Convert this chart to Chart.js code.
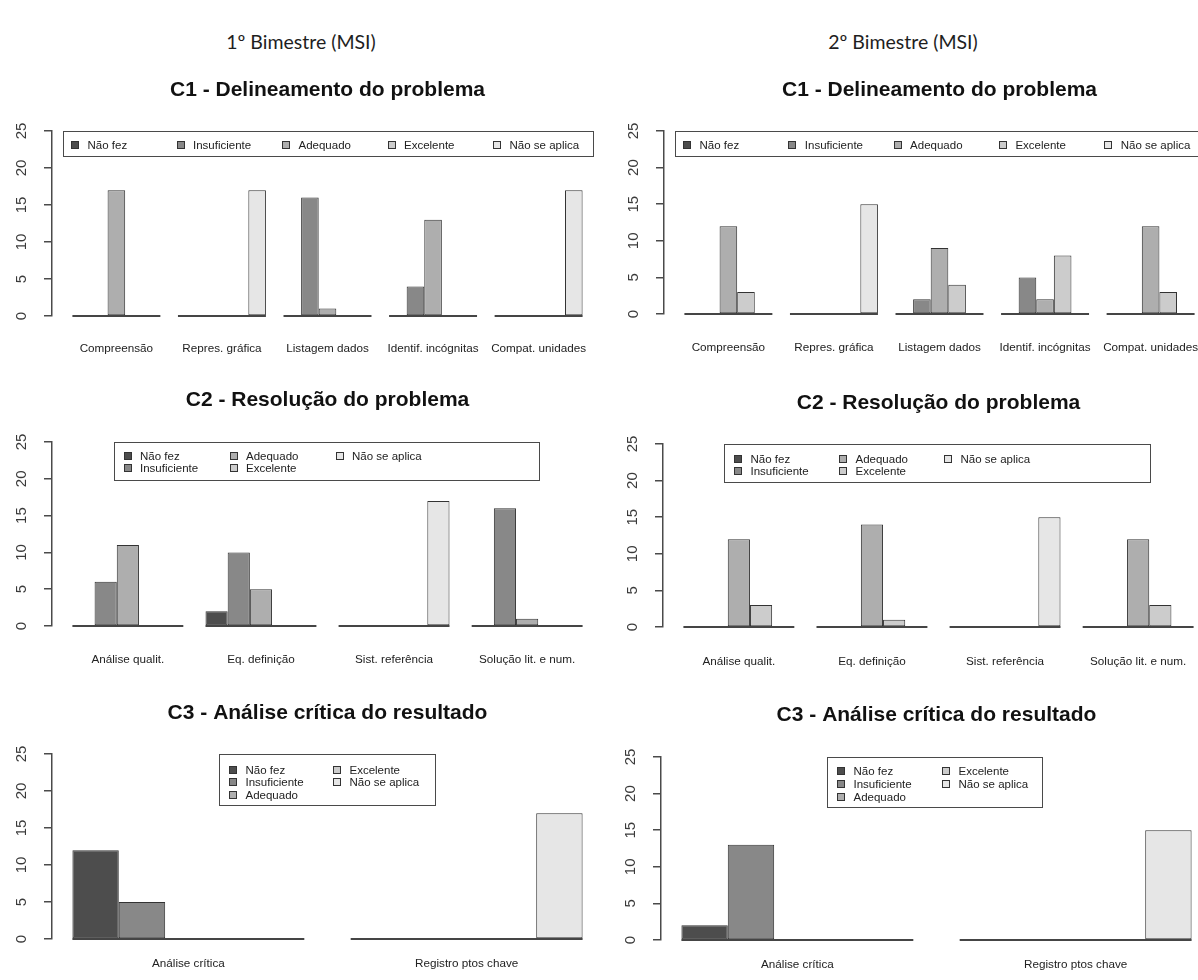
<!DOCTYPE html>
<html lang="pt">
<head>
<meta charset="utf-8">
<title>MSI - 1º e 2º Bimestre</title>
<script src="https://cdn.jsdelivr.net/npm/chart.js@4.4.1/dist/chart.umd.min.js"></script>
<style>
    html, body { margin: 0; padding: 0; background: #fff; }
    #pagina { position: relative; width: 1198px; height: 980px; overflow: hidden; background: #fff; }
    #pagina canvas { position: absolute; }
    .cabecalho {
        position: absolute; transform: translate(-50%, -50%); white-space: nowrap;
        font-family: Lato, "Open Sans", sans-serif; font-size: 19.5px; color: #1e1e1e;
    }
    .legenda { position: absolute; box-sizing: border-box; border: 1.5px solid #4a4a4a; }
    .item {
        position: absolute; display: flex; align-items: center; height: 12px;
        transform: translateY(-50%); white-space: nowrap;
        font-family: "Liberation Sans", Arial, sans-serif; font-size: 11.5px; color: #222;
    }
    .quadrado { flex: none; width: 8px; height: 8px; box-sizing: border-box; border: 1px solid #333; margin-right: 8.5px; }
</style>
</head>
<body>
<div id="pagina"></div>
<script>
    // series (legenda) e cores do barplot
    const series = ['Não fez', 'Insuficiente', 'Adequado', 'Excelente', 'Não se aplica'];
    const cores = ['#4d4d4d', '#888888', '#aeaeae', '#cccccc', '#e6e6e6'];
    const yTicks = [0, 5, 10, 15, 20, 25];

    const catC1 = ['Compreensão', 'Repres. gráfica', 'Listagem dados', 'Identif. incógnitas', 'Compat. unidades'];
    const catC2 = ['Análise qualit.', 'Eq. definição', 'Sist. referência', 'Solução lit. e num.'];
    const catC3 = ['Análise crítica', 'Registro ptos chave'];

    // uma linha por serie: Não fez, Insuficiente, Adequado, Excelente, Não se aplica
    const b1C1 = [
        [0, 0, 0, 0, 0],
        [0, 0, 16, 4, 0],
        [17, 0, 1, 13, 0],
        [0, 0, 0, 0, 0],
        [0, 17, 0, 0, 17]
    ];
    const b2C1 = [
        [0, 0, 0, 0, 0],
        [0, 0, 2, 5, 0],
        [12, 0, 9, 2, 12],
        [3, 0, 4, 8, 3],
        [0, 15, 0, 0, 0]
    ];
    const b1C2 = [
        [0, 2, 0, 0],
        [6, 10, 0, 16],
        [11, 5, 0, 1],
        [0, 0, 0, 0],
        [0, 0, 17, 0]
    ];
    const b2C2 = [
        [0, 0, 0, 0],
        [0, 0, 0, 0],
        [12, 14, 0, 12],
        [3, 1, 0, 3],
        [0, 0, 15, 0]
    ];
    const b1C3 = [
        [12, 0],
        [5, 0],
        [0, 0],
        [0, 0],
        [0, 17]
    ];
    const b2C3 = [
        [2, 0],
        [13, 0],
        [0, 0],
        [0, 0],
        [0, 15]
    ];

    const cabecalhos = [
        { texto: '1º Bimestre (MSI)', x: 301, y: 41 },
        { texto: '2º Bimestre (MSI)', x: 903, y: 41 }
    ];

    // posicoes de cada painel na pagina (eixo y, limites da area do grafico, titulo e rotulos)
    const paineis = [
        { titulo: 'C1 - Delineamento do problema', categorias: catC1, valores: b1C1,
          eixo: 52, direita: 603, topo: 131, base: 316, tituloY: 90, rotuloY: 349,
          leg: { x: 63, y: 131, w: 531, h: 26, qx: 75, qy: 144.5, passoX: 105.5, passoY: 0, linhas: 1 } },
        { titulo: 'C1 - Delineamento do problema', categorias: catC1, valores: b2C1,
          eixo: 664, direita: 1215, topo: 131, base: 314, tituloY: 90, rotuloY: 348,
          leg: { x: 675, y: 131, w: 540, h: 26, qx: 687, qy: 144.5, passoX: 105.3, passoY: 0, linhas: 1 } },
        { titulo: 'C2 - Resolução do problema', categorias: catC2, valores: b1C2,
          eixo: 52, direita: 603, topo: 442, base: 626, tituloY: 400, rotuloY: 660,
          leg: { x: 114, y: 442, w: 426, h: 39, qx: 127.5, qy: 456, passoX: 106, passoY: 12.3, linhas: 2 } },
        { titulo: 'C2 - Resolução do problema', categorias: catC2, valores: b2C2,
          eixo: 663, direita: 1214, topo: 444, base: 627, tituloY: 403, rotuloY: 662,
          leg: { x: 724, y: 444, w: 427, h: 39, qx: 738, qy: 459, passoX: 105, passoY: 12.3, linhas: 2 } },
        { titulo: 'C3 - Análise crítica do resultado', categorias: catC3, valores: b1C3,
          eixo: 52, direita: 603, topo: 754, base: 939, tituloY: 713, rotuloY: 964,
          leg: { x: 219, y: 754, w: 217, h: 52, qx: 233, qy: 769.5, passoX: 104, passoY: 12.8, linhas: 3 } },
        { titulo: 'C3 - Análise crítica do resultado', categorias: catC3, valores: b2C3,
          eixo: 661, direita: 1212, topo: 757, base: 940, tituloY: 715, rotuloY: 965,
          leg: { x: 827, y: 757, w: 216, h: 51, qx: 841, qy: 771, passoX: 105, passoY: 12.8, linhas: 3 } }
    ];

    const pagina = document.getElementById('pagina');

    cabecalhos.forEach(c => {
        const div = document.createElement('div');
        div.className = 'cabecalho';
        div.style.left = c.x + 'px';
        div.style.top = c.y + 'px';
        div.textContent = c.texto;
        pagina.appendChild(div);
    });

    // barras de altura zero no R aparecem como uma linha: desenha a base de cada grupo
    const linhaBase = {
        id: 'linhaBase',
        afterDatasetsDraw(chart) {
            const ctx = chart.ctx;
            const y0 = chart.scales.y.getPixelForValue(0);
            const primeiro = chart.getDatasetMeta(0).data;
            const ultimo = chart.getDatasetMeta(chart.data.datasets.length - 1).data;
            ctx.save();
            ctx.strokeStyle = '#454545';
            ctx.lineWidth = 2;
            primeiro.forEach((barra, i) => {
                const fim = ultimo[i];
                ctx.beginPath();
                ctx.moveTo(barra.x - barra.width / 2, y0);
                ctx.lineTo(fim.x + fim.width / 2, y0);
                ctx.stroke();
            });
            ctx.restore();
        }
    };

    function desenharLegenda(leg) {
        const caixa = document.createElement('div');
        caixa.className = 'legenda';
        caixa.style.left = leg.x + 'px';
        caixa.style.top = leg.y + 'px';
        caixa.style.width = leg.w + 'px';
        caixa.style.height = leg.h + 'px';
        pagina.appendChild(caixa);

        series.forEach((nome, i) => {
            const col = Math.floor(i / leg.linhas);
            const lin = i % leg.linhas;
            const item = document.createElement('div');
            item.className = 'item';
            item.style.left = (leg.qx - 4 + col * leg.passoX) + 'px';
            item.style.top = (leg.qy + lin * leg.passoY) + 'px';
            item.innerHTML = `<span class="quadrado" style="background:${cores[i]}"></span><span>${nome}</span>`;
            pagina.appendChild(item);
        });
    }

    function desenharPainel(p) {
        const esquerda = p.eixo - 52;
        const topoCanvas = p.topo - 75;
        const folgaDir = 30;
        const largura = Math.round(p.direita + folgaDir - esquerda);
        const altura = Math.round(p.rotuloY + 16 - topoCanvas);

        const canvas = document.createElement('canvas');
        canvas.width = largura;
        canvas.height = altura;
        canvas.style.left = esquerda + 'px';
        canvas.style.top = topoCanvas + 'px';
        pagina.appendChild(canvas);

        // extensao de 4% do R nos dois lados (em unidades de barra, 6 barras por grupo)
        const nGrupos = p.categorias.length;
        const ext = 0.04 * (nGrupos * 6 - 1);
        const meio = (2.5 + ext) / 6;

        const tituloLH = 21 * 1.2;
        const padTitulo = p.tituloY - topoCanvas - tituloLH / 2;
        const rotuloLH = 11.7 * 1.2;

        const datasets = series.map((nome, s) => ({
            label: nome,
            data: p.valores[s].map((v, i) => ({ x: i, y: v })),
            backgroundColor: cores[s],
            borderColor: '#333',
            borderWidth: 1,
            borderSkipped: false,
            categoryPercentage: 5 / 6,
            barPercentage: 1
        }));

        new Chart(canvas, {
            type: 'bar',
            data: { datasets: datasets },
            options: {
                responsive: false,
                animation: false,
                events: [],
                layout: { padding: { left: 0, right: folgaDir, top: 0, bottom: 0 } },
                plugins: {
                    legend: { display: false },
                    tooltip: { enabled: false },
                    title: {
                        display: true,
                        fullSize: false,
                        text: p.titulo,
                        color: '#111',
                        font: { family: '"Liberation Sans", Arial, sans-serif', size: 21, weight: 'bold', lineHeight: 1.2 },
                        padding: { top: padTitulo, bottom: 75 - padTitulo - tituloLH }
                    }
                },
                scales: {
                    x: {
                        type: 'linear',
                        offset: false,
                        min: -meio,
                        max: nGrupos - 1 + meio,
                        grid: { display: false, drawTicks: false },
                        border: { display: false },
                        afterBuildTicks: s => { s.ticks = p.categorias.map((c, i) => ({ value: i })); },
                        afterFit: s => { s.height = altura - (p.base - topoCanvas); },
                        ticks: {
                            autoSkip: false,
                            maxRotation: 0,
                            padding: p.rotuloY - p.base - rotuloLH / 2,
                            color: '#222',
                            font: { family: '"Liberation Sans", Arial, sans-serif', size: 11.7 },
                            callback: v => p.categorias[v]
                        }
                    },
                    y: {
                        min: 0,
                        max: 25,
                        afterBuildTicks: s => { s.ticks = yTicks.map(v => ({ value: v })); },
                        afterFit: s => { s.width = 52; },
                        grid: { drawOnChartArea: false, drawTicks: true, tickLength: 8, color: '#4a4a4a', lineWidth: 1.5 },
                        border: { display: true, color: '#4a4a4a', width: 1.5 },
                        ticks: {
                            autoSkip: false,
                            minRotation: 90,
                            maxRotation: 90,
                            crossAlign: 'center',
                            padding: 14,
                            color: '#3a3a3a',
                            font: { family: '"Liberation Sans", Arial, sans-serif', size: 15 }
                        }
                    }
                }
            },
            plugins: [linhaBase]
        });

        desenharLegenda(p.leg);
    }

    paineis.forEach(desenharPainel);
</script>
</body>
</html>
